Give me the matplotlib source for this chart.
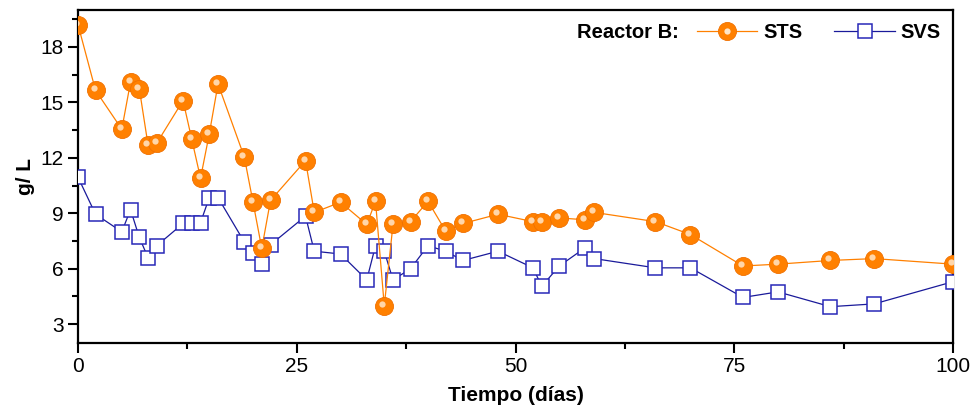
import numpy as np
import matplotlib
matplotlib.use("Agg")
import matplotlib.pyplot as plt
from matplotlib.legend_handler import HandlerTuple
from matplotlib.lines import Line2D
from matplotlib.ticker import MultipleLocator
import matplotlib.transforms as mtransforms

# Reactor B data (days, g/L)
dias = [0, 2, 5, 6, 7, 8, 9, 12, 13, 14, 15, 16, 19, 20, 21, 22, 26, 27, 30, 33,
        34, 35, 36, 38, 40, 42, 44, 48, 52, 53, 55, 58, 59, 66, 70, 76, 80, 86, 91, 100]
sts = [19.2, 15.65, 13.55, 16.1, 15.75, 12.7, 12.8, 15.1, 13.0, 10.9, 13.3, 16.0,
       12.05, 9.6, 7.1, 9.7, 11.85, 9.05, 9.6, 8.4, 9.65, 4.0, 8.4, 8.55, 9.65, 8.05,
       8.45, 8.95, 8.55, 8.55, 8.75, 8.65, 9.05, 8.55, 7.85, 6.15, 6.25, 6.45, 6.55, 6.25]
svs = [10.95, 8.95, 8.0, 9.2, 7.7, 6.6, 7.25, 8.45, 8.5, 8.5, 9.85, 9.85,
       7.45, 6.85, 6.25, 7.3, 8.85, 6.95, 6.8, 5.4, 7.25, 6.95, 5.4, 6.0, 7.25, 6.95,
       6.45, 6.95, 6.05, 5.05, 6.15, 7.15, 6.55, 6.05, 6.05, 4.45, 4.75, 3.95, 4.1, 5.3]

plt.rcParams['font.family'] = ['Liberation Sans', 'DejaVu Sans']

orange = '#FF8000'
navy = '#1A1A9A'

fig = plt.figure(figsize=(9.78, 4.15), dpi=100)
ax = fig.add_axes([0.0798, 0.1742, 0.8946, 0.8017])

# SVS: open squares
ax.plot(dias, svs, color=navy, lw=0.9, marker='s', ms=10.5,
        mfc='white', mec='#2828B8', mew=1.1, zorder=3)
# STS: orange balls with a small highlight
ax.plot(dias, sts, color=orange, lw=0.9, marker='o', ms=13,
        mfc=orange, mec='#F07000', mew=0.6, zorder=4)
shift = mtransforms.offset_copy(ax.transData, fig=fig, x=-2.0, y=2.0, units='dots')
ax.plot(dias, sts, ls='none', marker='o', ms=4.5, mfc='#FFE6C8',
        mec='none', alpha=0.85, zorder=5, transform=shift)

ax.set_xlim(0, 100)
ax.set_ylim(2, 20)
ax.xaxis.set_major_locator(MultipleLocator(25))
ax.xaxis.set_minor_locator(MultipleLocator(12.5))
ax.yaxis.set_major_locator(MultipleLocator(3))
ax.yaxis.set_minor_locator(MultipleLocator(1.5))
ax.tick_params(which='major', direction='out', length=7, width=1.5, labelsize=15)
ax.tick_params(which='minor', direction='out', length=4, width=1.5)
for s in ax.spines.values():
    s.set_linewidth(1.6)

ax.set_xlabel('Tiempo (días)', fontsize=15, fontweight='bold', labelpad=7)
ax.set_ylabel('g/ L', fontsize=15, fontweight='bold', labelpad=4)

# legend
sts_h = (Line2D([], [], color=orange, lw=0.9, marker='o', ms=13, mfc=orange,
                mec='#F07000', mew=0.6),
         Line2D([], [], ls='none', marker='o', ms=4.5, mfc='#FFE6C8', mec='none'))
svs_h = Line2D([], [], color=navy, lw=0.9, marker='s', ms=10.5, mfc='white',
               mec='#2828B8', mew=1.1)
ax.text(0.570, 0.931, 'Reactor B:', transform=ax.transAxes, fontsize=14.5,
        fontweight='bold', va='center', ha='left')
ax.legend([sts_h, svs_h], ['STS', 'SVS'], handler_map={tuple: HandlerTuple(ndivide=1)},
          loc='center left', bbox_to_anchor=(0.707, 0.931), ncol=2, frameon=False,
          handlelength=3.0, handletextpad=0.3, columnspacing=1.6, borderpad=0,
          prop={'weight': 'bold', 'size': 14.5}, borderaxespad=0)

fig.savefig('out.png', dpi=100)
